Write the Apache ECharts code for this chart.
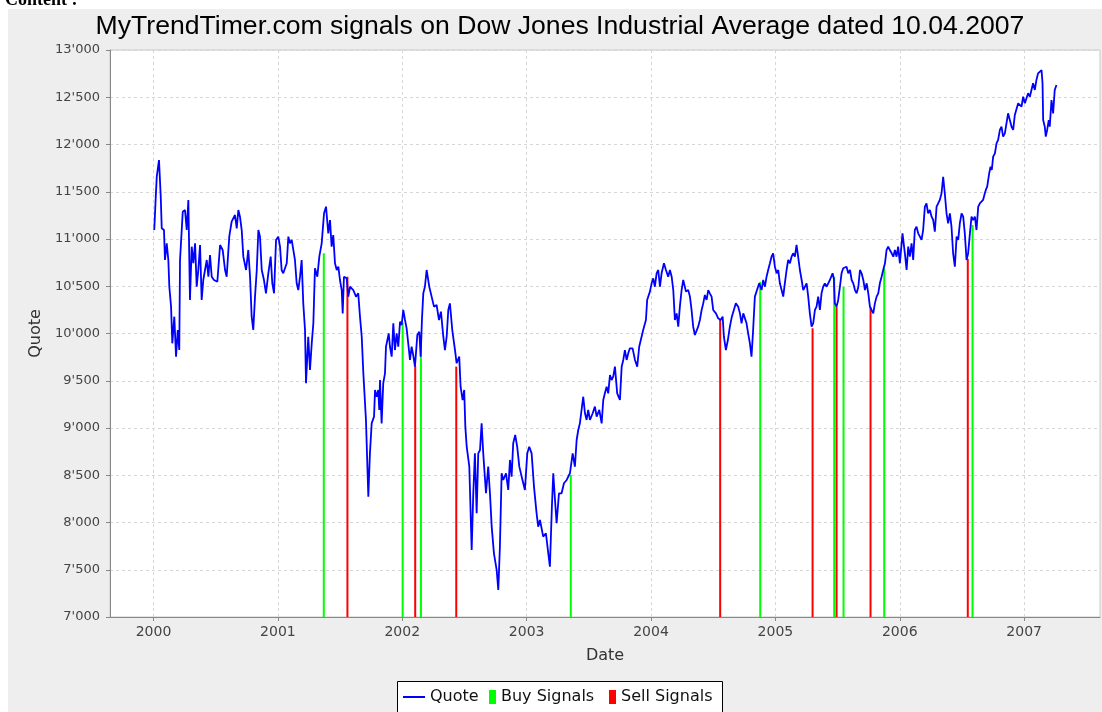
<!DOCTYPE html>
<html>
<head>
<meta charset="utf-8">
<script src="https://cdn.jsdelivr.net/npm/echarts@6/dist/echarts.min.js"></script>
<style>
html,body{margin:0;padding:0;background:#ffffff;}
#panel{position:absolute;left:8px;top:9px;width:1094px;height:703px;background:#eeeeee;}
#chart{position:absolute;left:0;top:0;width:1102px;height:712px;}
</style>
</head>
<body>
<div id="panel"></div>
<div id="chart"></div>
<script>
// ---- data (decimal year, quote) ----
const quote2000 = [[2000.006,11095],[2000.018,11448],[2000.026,11659],[2000.044,11836],[2000.058,11448],[2000.066,11113],[2000.084,11095],[2000.092,10778],[2000.106,10954],[2000.119,10778],
[2000.127,10495],[2000.141,10284],[2000.151,9896],[2000.167,10178],[2000.181,9755],[2000.195,10037],[2000.207,9825],[2000.213,10778],[2000.235,11289],[2000.253,11307],
[2000.267,11095],[2000.280,11413],[2000.293,10355],[2000.307,10919],[2000.320,10743],[2000.334,10954],[2000.347,10495],[2000.360,10672],[2000.374,10937],[2000.387,10355],
[2000.400,10566],[2000.428,10778],[2000.441,10601],[2000.454,10831],[2000.468,10601],[2000.486,10566],[2000.513,10548],[2000.535,10937],[2000.556,10884],[2000.575,10672],
[2000.588,10601],[2000.609,11025],[2000.628,11183],[2000.655,11254],[2000.669,11113],[2000.682,11307],[2000.695,11236],[2000.709,11095],[2000.722,10813],[2000.744,10672],
[2000.762,10884],[2000.776,10601],[2000.789,10178],[2000.802,10037],[2000.816,10390],[2000.830,10672],[2000.843,11095],[2000.856,11025],[2000.870,10672],[2000.888,10566],
[2000.904,10425],[2000.923,10637],[2000.942,10813],[2000.955,10531],[2000.969,10425],[2000.985,10990]];
const quote2001 = [[2001.003,11025],[2001.017,10919],[2001.030,10672],[2001.043,10637],[2001.071,10743],[2001.084,11025],[2001.097,10954],[2001.111,10990],[2001.124,10884],[2001.137,10778],
[2001.151,10531],[2001.164,10460],[2001.178,10601],[2001.191,10778],[2001.204,10319],[2001.218,10037],[2001.226,9473],[2001.244,9966],[2001.258,9614],[2001.272,9896],
[2001.285,10108],[2001.298,10690],[2001.317,10601],[2001.333,10813],[2001.352,10954],[2001.371,11272],[2001.387,11342],[2001.405,11060],[2001.419,11201],[2001.432,10919],
[2001.445,11042],[2001.459,10743],[2001.473,10672],[2001.486,10707],[2001.499,10566],[2001.513,10460],[2001.521,10213],[2001.531,10601],[2001.553,10584],[2001.566,10390],
[2001.580,10495],[2001.606,10460],[2001.628,10390],[2001.646,10425],[2001.660,10178],[2001.674,9966],[2001.687,9579],[2001.708,9085],[2001.727,8273],[2001.740,8732],
[2001.754,9049],[2001.773,9120],[2001.781,9402],[2001.794,9331],[2001.807,9402],[2001.815,9191],[2001.821,9508],[2001.834,9049],[2001.847,9473],[2001.861,9579],
[2001.869,9860],[2001.879,9878],[2001.891,10002],[2001.901,9860],[2001.915,9755],[2001.928,10108],[2001.941,9825],[2001.955,10002],[2001.968,9860],[2001.982,10125],[2001.995,10090]];
const quote2002 = [[2002.008,10249],[2002.022,10143],[2002.035,10055],[2002.048,9896],[2002.062,9720],[2002.075,9860],[2002.088,9772],[2002.102,9649],[2002.121,9984],[2002.137,10019],
[2002.148,9755],[2002.158,10143],[2002.169,10425],[2002.182,10495],[2002.196,10672],[2002.217,10495],[2002.236,10390],[2002.255,10284],[2002.276,10302],[2002.295,10143],
[2002.311,10231],[2002.330,9966],[2002.343,9825],[2002.357,9966],[2002.370,10249],[2002.383,10319],[2002.402,10037],[2002.424,9825],[2002.437,9685],[2002.458,9755],
[2002.469,9437],[2002.485,9296],[2002.498,9402],[2002.507,9014],[2002.518,8802],[2002.539,8591],[2002.558,7709],[2002.571,8309],[2002.584,8732],[2002.598,8097],
[2002.611,8732],[2002.625,8767],[2002.638,9049],[2002.651,8732],[2002.673,8309],[2002.691,8591],[2002.705,8309],[2002.719,7956],[2002.737,7674],[2002.759,7497],
[2002.772,7286],[2002.785,7744],[2002.799,8521],[2002.812,8450],[2002.834,8521],[2002.852,8344],[2002.866,8662],[2002.879,8485],[2002.892,8838],[2002.908,8926],
[2002.924,8802],[2002.941,8591],[2002.960,8485],[2002.986,8344]];
const quote2003 = [[2003.005,8732],[2003.021,8802],[2003.040,8732],[2003.059,8379],[2003.080,8097],[2003.093,7956],[2003.107,8027],[2003.133,7850],[2003.155,7886],[2003.174,7674],
[2003.187,7532],[2003.203,8167],[2003.214,8521],[2003.228,8238],[2003.241,7992],[2003.260,8309],[2003.281,8309],[2003.300,8415],[2003.322,8450],[2003.348,8521],
[2003.370,8732],[2003.388,8591],[2003.402,8873],[2003.415,8979],[2003.428,9049],[2003.455,9331],[2003.469,9156],[2003.482,9085],[2003.495,9191],[2003.509,9085],
[2003.531,9156],[2003.549,9226],[2003.563,9120],[2003.584,9191],[2003.603,9049],[2003.616,9296],[2003.629,9367],[2003.643,9437],[2003.656,9367],[2003.670,9561],
[2003.683,9508],[2003.696,9543],[2003.710,9649],[2003.728,9367],[2003.750,9296],[2003.764,9649],[2003.777,9720],[2003.790,9825],[2003.804,9720],[2003.817,9790],
[2003.830,9843],[2003.852,9843],[2003.871,9720],[2003.889,9649],[2003.905,9860],[2003.937,10037],[2003.959,10143],[2003.969,10355],[2003.991,10443]];
const quote2004 = [[2004.005,10531],[2004.018,10584],[2004.031,10495],[2004.045,10637],[2004.058,10672],[2004.072,10495],[2004.085,10637],[2004.104,10743],[2004.120,10672],[2004.138,10601],
[2004.152,10672],[2004.166,10601],[2004.179,10460],[2004.192,10143],[2004.206,10213],[2004.219,10072],[2004.232,10284],[2004.246,10460],[2004.259,10566],[2004.281,10443],
[2004.299,10460],[2004.313,10390],[2004.326,10249],[2004.339,10072],[2004.353,9984],[2004.366,10002],[2004.379,10072],[2004.393,10143],[2004.407,10249],[2004.420,10319],
[2004.433,10408],[2004.447,10355],[2004.460,10460],[2004.473,10425],[2004.487,10390],[2004.500,10249],[2004.522,10213],[2004.540,10161],[2004.559,10143],[2004.576,10178],
[2004.586,9966],[2004.602,9825],[2004.618,9931],[2004.634,10072],[2004.650,10178],[2004.666,10249],[2004.682,10319],[2004.701,10284],[2004.715,10213],[2004.728,10108],
[2004.742,10213],[2004.755,10213],[2004.768,10108],[2004.781,10002],[2004.795,9896],[2004.808,9755],[2004.821,10037],[2004.835,10390],[2004.849,10390],[2004.870,10531],
[2004.889,10460],[2004.902,10566],[2004.916,10495],[2004.929,10601],[2004.942,10672],[2004.956,10743],[2004.969,10813],[2004.982,10849],[2004.996,10707]];
const quote2005 = [[2005.010,10637],[2005.023,10672],[2005.036,10531],[2005.050,10460],[2005.063,10390],[2005.076,10531],[2005.090,10672],[2005.103,10778],[2005.117,10743],[2005.130,10813],
[2005.143,10849],[2005.157,10813],[2005.170,10937],[2005.183,10813],[2005.197,10672],[2005.211,10566],[2005.224,10460],[2005.237,10460],[2005.251,10531],[2005.264,10390],
[2005.277,10213],[2005.291,10072],[2005.304,10108],[2005.318,10249],[2005.331,10284],[2005.344,10390],[2005.358,10249],[2005.371,10425],[2005.384,10495],[2005.398,10531],
[2005.412,10495],[2005.425,10531],[2005.438,10566],[2005.460,10637],[2005.470,10580],[2005.478,10319],[2005.492,10284],[2005.505,10355],[2005.519,10495],[2005.532,10637],
[2005.545,10690],[2005.559,10672],[2005.572,10707],[2005.586,10637],[2005.600,10672],[2005.613,10566],[2005.626,10531],[2005.640,10460],[2005.653,10425],[2005.667,10495],
[2005.680,10672],[2005.693,10637],[2005.707,10566],[2005.720,10460],[2005.734,10531],[2005.747,10425],[2005.760,10284],[2005.773,10249],[2005.787,10213],[2005.800,10319],
[2005.814,10390],[2005.827,10425],[2005.840,10531],[2005.854,10601],[2005.867,10672],[2005.881,10743],[2005.894,10884],[2005.907,10919],[2005.920,10884],[2005.935,10849],
[2005.948,10813],[2005.961,10884],[2005.974,10813],[2005.987,10919]];
const quote2006 = [[2006.001,10743],[2006.022,11060],[2006.041,10849],[2006.055,10672],[2006.068,10919],[2006.081,10813],[2006.095,10954],[2006.108,10778],[2006.121,11095],[2006.135,11130],
[2006.148,11060],[2006.162,11025],[2006.175,10990],[2006.188,11095],[2006.202,11342],[2006.215,11378],[2006.228,11272],[2006.242,11307],[2006.256,11236],[2006.269,11201],
[2006.282,11078],[2006.296,11342],[2006.309,11378],[2006.322,11413],[2006.336,11484],[2006.349,11659],[2006.362,11484],[2006.376,11272],[2006.389,11166],[2006.403,11272],
[2006.416,11130],[2006.429,10849],[2006.443,10707],[2006.457,11025],[2006.470,10990],[2006.483,11166],[2006.497,11272],[2006.510,11236],[2006.523,11060],[2006.537,10778],
[2006.550,10849],[2006.564,11060],[2006.577,11236],[2006.590,11200],[2006.604,11236],[2006.617,11095],[2006.631,11342],[2006.644,11378],[2006.657,11378],[2006.670,11413],
[2006.684,11484],[2006.692,11519],[2006.703,11554],[2006.719,11695],[2006.730,11765],[2006.740,11730],[2006.751,11871],[2006.765,11907],[2006.778,12013],[2006.791,12048],
[2006.805,12154],[2006.818,12188],[2006.831,12083],[2006.845,12118],[2006.859,12118],[2006.871,12330],[2006.885,12259],[2006.899,12188],[2006.912,12154],[2006.925,12312],
[2006.939,12330],[2006.952,12436],[2006.966,12453],[2006.979,12400],[2006.992,12506]];
const quote2007 = [[2007.006,12436],[2007.019,12489],[2007.032,12542],[2007.046,12506],[2007.059,12577],[2007.072,12648],[2007.086,12577],[2007.099,12683],[2007.112,12753],[2007.125,12771],
[2007.140,12788],[2007.148,12648],[2007.153,12259],[2007.166,12188],[2007.174,12083],[2007.185,12154],[2007.198,12259],[2007.206,12188],[2007.220,12471],[2007.233,12330],
[2007.246,12577],[2007.260,12630]];

const buySignals = [[2001.369,10849],[2002.003,10114],[2002.150,9984],[2003.355,8503],[2004.878,10548],[2005.473,10601],[2005.548,10495],[2005.875,10690],[2006.585,11148]];
const sellSignals = [[2001.559,10601],[2002.104,9656],[2002.434,9650],[2004.556,10143],[2005.299,10055],[2005.492,10284],[2005.765,10277],[2006.547,10788]];

const yearTicks = [2000, 2001, 2002, 2003, 2004, 2005, 2006, 2007];
const xMin = 1999.65, xMax = 2007.61;
const yMin = 7000, yMax = 13000, yStep = 500;
const titleText = 'MyTrendTimer.com signals on Dow Jones Industrial Average dated 10.04.2007';
const seriesNames = ['Quote', 'Buy Signals', 'Sell Signals'];

const quoteData = [].concat(quote2000, quote2001, quote2002, quote2003, quote2004, quote2005, quote2006, quote2007);

function fmtQuote(v){ return String(v).replace(/\B(?=(\d{3})+(?!\d))/g, "'"); }

const legendText = {fontFamily: 'DejaVu Sans', fontSize: 16, color: '#111'};
const chart = echarts.init(document.getElementById('chart'), null, {renderer:'canvas'});
chart.setOption({
  animation: false,
  backgroundColor: 'transparent',
  textStyle: {fontFamily: 'DejaVu Sans'},
  graphic: [
    {type:'text', left: 5, top: -9, silent: true,
     style:{text:'Content :', font:'bold 18px "Liberation Serif"', fill:'#000'}},
    {type:'rect', silent: true, z: 0,
     shape:{x: 397.5, y: 681.5, width: 325, height: 40},
     style:{fill:'#ffffff', stroke:'#000000', lineWidth: 1}}
  ],
  title: {
    text: titleText, left: 560, top: 13, textAlign: 'center', padding: 0,
    textStyle: {fontFamily: 'Liberation Sans', fontSize: 26.6, fontWeight: 'normal', color: '#000'}
  },
  grid: {left: 110, right: 2, top: 50, bottom: 95, show: true, backgroundColor: '#ffffff',
         borderColor: '#c8c8c8', borderWidth: 1, containLabel: false, outerBoundsMode: 'none'},
  legend: [
    {left: 403, top: 689, padding: 0, itemWidth: 22, itemHeight: 14, textStyle: legendText,
     data: [{name: seriesNames[0], icon: 'path://M0,0H22V2H0Z'}]},
    {left: 489, top: 689, padding: 0, itemWidth: 7, itemHeight: 14, textStyle: legendText,
     data: [{name: seriesNames[1], icon: 'rect'}]},
    {left: 609, top: 689, padding: 0, itemWidth: 7, itemHeight: 14, textStyle: legendText,
     data: [{name: seriesNames[2], icon: 'rect'}]}
  ],
  xAxis: {
    type: 'value', min: xMin, max: xMax,
    name: 'Date', nameLocation: 'middle', nameGap: 31,
    nameTextStyle: {fontFamily: 'DejaVu Sans', fontSize: 16, color: '#333'},
    axisLine: {show: true, onZero: false, lineStyle: {color: '#888', width: 1}},
    axisTick: {show: true, length: 4, customValues: yearTicks, lineStyle: {color: '#888'}},
    axisLabel: {customValues: yearTicks, margin: 8, fontFamily: 'DejaVu Sans', fontSize: 14, color: '#444',
                formatter: v => String(Math.round(v))},
    splitLine: {show: true, lineStyle: {color: '#d6d6d6', type: [3, 3]}}
  },
  yAxis: {
    type: 'value', min: yMin, max: yMax, interval: yStep,
    name: 'Quote', nameLocation: 'middle', nameGap: 65,
    nameTextStyle: {fontFamily: 'DejaVu Sans', fontSize: 16, color: '#333'},
    axisLine: {show: true, lineStyle: {color: '#888', width: 1}},
    axisTick: {show: true, length: 4, lineStyle: {color: '#888'}},
    axisLabel: {margin: 10, fontFamily: 'DejaVu Sans', fontSize: 13, color: '#444', formatter: v => fmtQuote(v)},
    splitLine: {show: true, lineStyle: {color: '#d6d6d6', type: [3, 3]}}
  },
  series: [
    {name: seriesNames[0], type: 'line', data: quoteData, showSymbol: false, symbol: 'none',
     lineStyle: {color: '#0000ff', width: 1.8}, itemStyle: {color: '#0000ff'}, z: 4},
    {name: seriesNames[1], type: 'bar', data: buySignals, barWidth: 2, barGap: '-100%', clip: true,
     itemStyle: {color: '#00ff00'}, z: 2},
    {name: seriesNames[2], type: 'bar', data: sellSignals, barWidth: 2, barGap: '-100%', clip: true,
     itemStyle: {color: '#ff0000'}, z: 2}
  ]
});
</script>
</body>
</html>
